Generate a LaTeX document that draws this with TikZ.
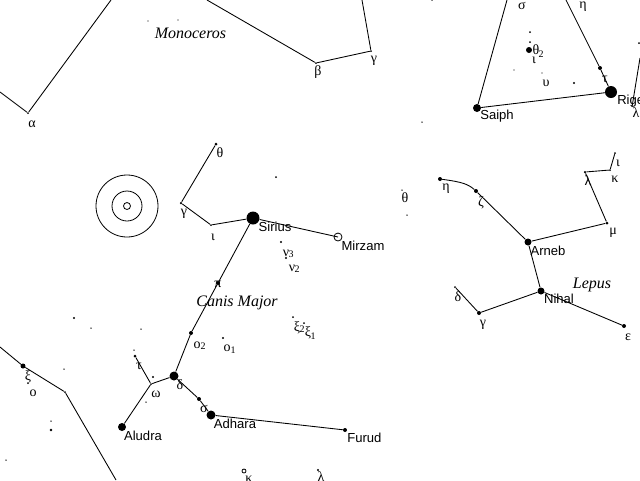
\documentclass[tikz,border=0pt]{standalone}
\usepackage{fontspec}
\setmainfont{Liberation Sans}
\newfontfamily\serifgr{Liberation Serif}
\begin{document}
\begin{tikzpicture}[x=0.75pt,y=-0.75pt,
  star/.style={circle,fill=black,inner sep=0pt,minimum size=#1*0.75pt},
  star/.default=3,
  openstar/.style={circle,draw=black,line width=0.6pt,inner sep=0pt,minimum size=#1*0.75pt},
  ln/.style={draw=black,line width=0.65pt},
  nm/.style={inner sep=0pt,font=\fontsize{9.8}{9.8}\selectfont},
  gr/.style={inner sep=0pt,font=\serifgr\fontsize{10.5}{10.5}\selectfont},
  grs/.style={inner sep=0pt,font=\serifgr\fontsize{7.5}{7.5}\selectfont},
  con/.style={inner sep=0pt,font=\serifgr\itshape\fontsize{12}{12}\selectfont},
  ring/.style={circle,draw=black,line width=0.6pt,inner sep=0pt,minimum size=#1*0.75pt}]
\useasboundingbox (0,0) rectangle (640,480);
\begin{scope}
\clip (0,0) rectangle (640,480);
% free ends
\coordinate (m0) at (0,92); \coordinate (m1) at (111,0); \coordinate (m2) at (207,0); \coordinate (m3) at (362,0);
\coordinate (o1) at (507,0); \coordinate (o2) at (566,0); \coordinate (o3) at (640,58); \coordinate (o4) at (632,107);
\coordinate (c1) at (0,347); \coordinate (c2) at (116,480);
% Monoceros
\node[star=2] (alpha) at (28,113) {};
\node[star=2] (beta) at (316,63) {};
\node[star=2] (gammaM) at (371,51) {};
\draw[ln] (m0) -- (alpha) -- (m1);
\draw[ln] (m2) -- (beta) -- (gammaM) -- (m3);
\node[gr] (lalpha) at (32,124) {α};
\node[gr] (lbeta) at (318,72) {β};
\node[gr] (lgammaM) at (374,61) {γ};
\node[con] (monoceros) at (190.500,33) {Monoceros};
\node[star=1.2] (d1) at (148,21) {};
\node[star=1.2] (d2) at (178,20) {};
% Orion
\node[star=8] (saiph) at (477,108) {};
\node[star=12] (rigel) at (611,92) {};
\node[star=4] (tau) at (600,68) {};
\draw[ln] (o1) -- (saiph) -- (rigel) -- (tau) -- (o2);
\draw[ln] (o3) -- (o4);
\node[nm] (lsaiph) at (497,116) {Saiph};
\node[nm,anchor=west] (lrigel) at (617,101) {Rigel};
\node[gr] (lsigma) at (522,6) {σ};
\node[gr] (leta) at (583,7) {η};
\node[gr] (ltau) at (605,79) {τ};
\node[star=6] (th) at (529,50) {};
\node[gr] (lth) at (536,50) {θ}; \node[grs] (lth2) at (541,54) {2};
\node[gr] (liota) at (534,60.500) {ι};
\node[gr] (lups) at (546,83) {υ};
\node[star=2] (d3) at (530,32) {};
\node[star=2] (d4) at (530,42) {};
\node[star=1.2] (d5) at (514,70) {};
\node[star=1.2] (d6) at (542,73) {};
\node[star=2.4] (d7) at (574,83) {};
\node[star=2] (d8) at (639,43) {};
\node[gr] (llam) at (636,113) {λ};
\node[star=1.5] (d9) at (422,122) {};
\node[star=1.5] (d10) at (432,0) {};
% Lepus
\node[star=4] (etaL) at (440,179) {};
\node[star=4] (zeta) at (476,191) {};
\node[star=7] (arneb) at (528,242) {};
\node[star=3] (mu) at (607,223) {};
\node[star=2.5] (lamL) at (585,172) {};
\node[star=2] (kappa) at (610,170) {};
\node[star=2] (iotaL) at (615,153) {};
\node[star=7] (nihal) at (541,291) {};
\node[star=4] (gammaL) at (479,313) {};
\node[star=2] (deltaL) at (455,287) {};
\node[star=4] (eps) at (624,326) {};
\draw[ln] (etaL) .. controls (462,182) and (468,184) .. (zeta);
\draw[ln] (zeta) -- (arneb) -- (mu) -- (lamL) -- (kappa) -- (iotaL);
\draw[ln] (arneb) -- (nihal) -- (gammaL) -- (deltaL);
\draw[ln] (nihal) -- (eps);
\node[gr] (letaL) at (446,189) {η};
\node[gr] (lzeta) at (481,203) {ζ};
\node[nm] (larneb) at (548,251) {Arneb};
\node[gr] (lmu) at (613,233) {μ};
\node[gr] (llamL) at (588,181) {λ};
\node[gr] (lkappa) at (615,179) {κ};
\node[gr] (liotaL) at (618,163) {ι};
\node[con] (lepus) at (592,285) {Lepus};
\node[nm] (lnihal) at (559,299) {Nihal};
\node[gr] (ldeltaL) at (458,297) {δ};
\node[gr] (lgammaL) at (483,325) {γ};
\node[gr] (leps) at (628,337) {ε};
% Canis Major
\node[ring=62] (neb1) at (127,206) {};
\node[ring=30] (neb2) at (127,206) {};
\node[ring=7] (neb3) at (127,206) {};
\node[star=3] (theta) at (216,144) {};
\node[star=2.5] (gammaC) at (181,203) {};
\node[star=2] (iotaC) at (211,225) {};
\node[star=13] (sirius) at (253,218) {};
\node[openstar=8] (mirzam) at (338,237) {};
\node[star=4] (pi) at (218,283) {};
\node[star=4] (omi2) at (191,333) {};
\node[star=9] (delta) at (174,376) {};
\node[star=2] (omega) at (151,384) {};
\node[star=3] (tauC) at (135,356) {};
\node[star=8] (aludra) at (122,427) {};
\node[star=4] (sigma) at (199,399) {};
\node[star=9] (adhara) at (211,415) {};
\node[star=4] (furud) at (345,430) {};
\draw[ln] (theta) -- (gammaC) -- (iotaC) -- (sirius) -- (mirzam.center);
\draw[ln] (sirius) -- (pi) -- (omi2) -- (delta) -- (omega) -- (tauC);
\draw[ln] (omega) -- (aludra);
\draw[ln] (delta) -- (sigma) -- (adhara) -- (furud);
\node[nm] (lsirius) at (275,227) {Sirius};
\node[nm] (lmirzam) at (363,246) {Mirzam};
\node[nm] (laludra) at (143,436) {Aludra};
\node[nm] (ladhara) at (235,424) {Adhara};
\node[nm,anchor=west] (lfurud) at (347,438) {Furud};
\node[con] (canis) at (237,303) {Canis Major};
\node[gr] (ltheta) at (220,153) {θ};
\node[gr] (lgammaC) at (184,214) {γ};
\node[gr] (liotaC) at (213,237) {ι};
\node[gr] (lthetaR) at (405,198) {θ};
\node[gr] (lnu3) at (286,253) {ν}; \node[grs] (lnu3s) at (291,254) {3};
\node[gr] (lnu2) at (292,268) {ν}; \node[grs] (lnu2s) at (297,269) {2};
\node[star=2.4] (nu3) at (281,242) {};
\node[star=2.4] (nu2) at (286,258) {};
\node[gr] (lpi) at (218,284) {π};
\node[gr] (lo2) at (197,345) {ο}; \node[grs] (lo2s) at (203,346) {2};
\node[gr] (lo1) at (227,348) {ο}; \node[grs] (lo1s) at (233,350) {1};
\node[star=2.4] (omi1) at (223,338) {};
\node[gr] (lxi2) at (297,328) {ξ}; \node[grs] (lxi2s) at (302,329) {2};
\node[gr] (lxi1) at (308,333) {ξ}; \node[grs] (lxi1s) at (313,336) {1};
\node[star=2] (xi2) at (293,317) {};
\node[star=2] (xi1) at (304,323) {};
\node[gr] (ldelta) at (180,385) {δ};
\node[gr] (lomega) at (156,394) {ω};
\node[gr] (ltauC) at (139,366) {τ};
\node[gr] (lsigmaC) at (204,409) {σ};
\node[star=2] (d11) at (276,177) {};
\node[star=1.5] (d12) at (402,190) {};
\node[star=1.5] (d13) at (407,215) {};
\node[star=1.5] (d14) at (141,329) {};
\node[star=1.5] (d15) at (134,350) {};
\node[star=2.4] (d16) at (153,377) {};
\node[star=1.5] (d17) at (146,402) {};
\node[openstar=4] (kapC) at (244,471) {};
\node[gr] (lkapC) at (249,479) {κ};
\node[star=2.4] (d18) at (318,470) {};
\node[gr] (lbot) at (321,477) {λ};
% Left figure
\node[star=5] (xiP) at (23,366) {};
\node[star=2] (bend) at (65,392) {};
\draw[ln] (c1) -- (xiP) -- (bend) -- (c2);
\node[gr] (lxiP) at (28,377) {ξ};
\node[gr] (loP) at (33,393) {ο};
\node[star=2] (d19) at (28,383) {};
\node[star=2.4] (d20) at (74,318) {};
\node[star=1.5] (d21) at (91,328) {};
\node[star=1.5] (d22) at (64,369) {};
\node[star=1.5] (d23) at (51,421) {};
\node[star=2.8] (d24) at (51,430) {};
\node[star=1.5] (d25) at (6,460) {};
\end{scope}
\end{tikzpicture}
\end{document}
